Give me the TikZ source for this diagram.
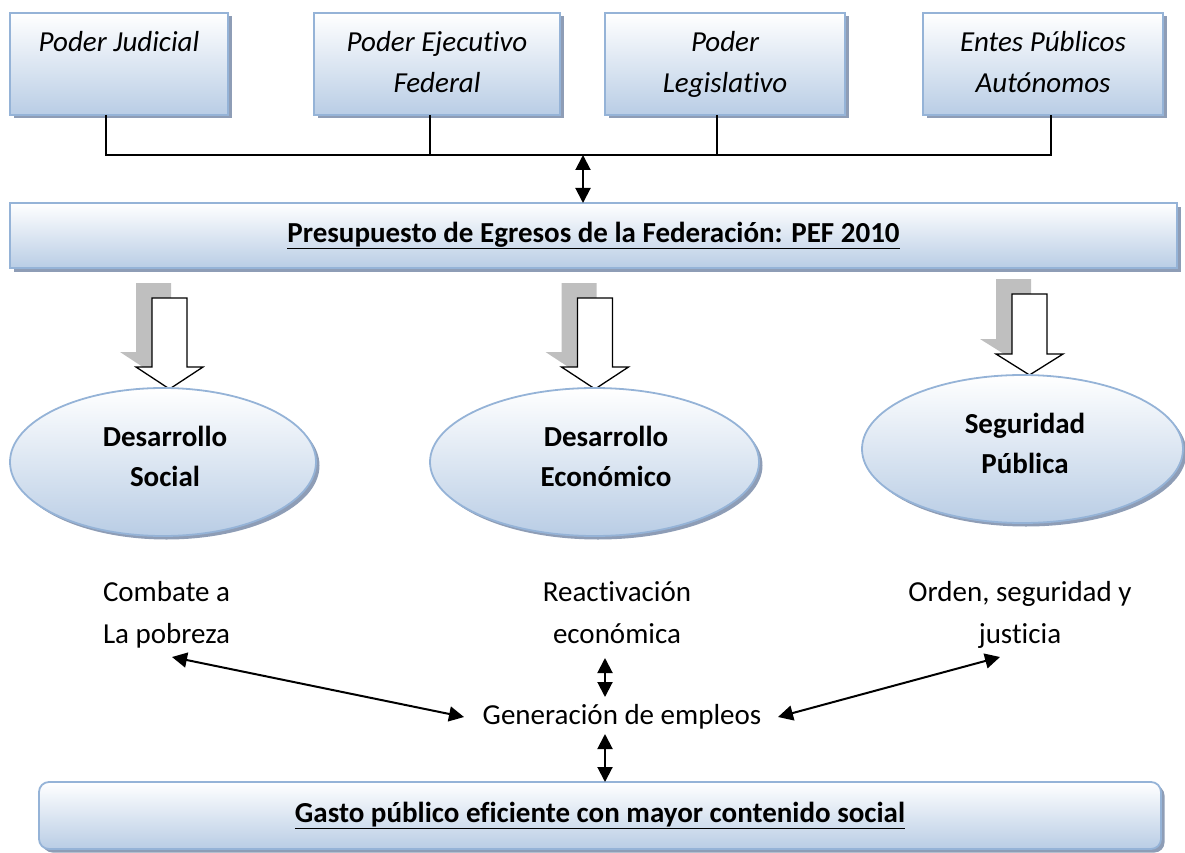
\documentclass[tikz,border=0pt]{standalone}
\usepackage{fontspec}
\setmainfont{Carlito}[Ligatures=NoCommon]
\usetikzlibrary{shapes.geometric,shadows,arrows.meta}
\definecolor{bfill}{RGB}{185,205,229}
\definecolor{bdraw}{RGB}{149,179,215}
\definecolor{shcol}{RGB}{142,157,182}
\definecolor{garrow}{RGB}{191,191,191}
\begin{document}
\begin{tikzpicture}[x=1pt,y=-1pt,
  every node/.style={font=\fontsize{29}{41}\selectfont, inner sep=0pt, outer sep=0pt},
  boxsh/.style={drop shadow={shadow xshift=3.5pt, shadow yshift=-3.5pt, fill=shcol, opacity=1}},
  topbox/.style={draw=bdraw, line width=1.8pt, top color=white, bottom color=bfill, boxsh,
    align=center, anchor=north west, minimum height=102pt, font=\fontsize{29}{41}\selectfont\itshape},
  widebox/.style={draw=bdraw, line width=1.8pt, top color=white, bottom color=bfill, boxsh,
    align=center, anchor=north west, font=\fontsize{29}{41}\selectfont\bfseries},
  oval/.style={ellipse, draw=bdraw, line width=1.8pt, top color=white, bottom color=bfill, boxsh},
  ovaltext/.style={align=center, font=\fontsize{29}{40}\selectfont\bfseries},
  plain/.style={font=\fontsize{29}{42}\selectfont},
  bus/.style={line width=1.3pt, black},
  dbl/.style={{Triangle[width=15pt,length=15pt]}-{Triangle[width=15pt,length=15pt]}, line width=2pt},
  blockw/.style={fill=white, draw=black, line width=1.3pt},
  blockg/.style={fill=garrow}
]
\useasboundingbox (0,0) rectangle (1185,853);

% top boxes
\node[topbox, minimum width=218pt] (pj) at (10,13) {\strut Poder Judicial\\\strut};
\node[topbox, minimum width=246pt] (pe) at (314,13) {\strut Poder Ejecutivo\\\strut Federal};
\node[topbox, minimum width=240pt] (pl) at (605,13) {\strut Poder\\\strut Legislativo};
\node[topbox, minimum width=240pt] (pa) at (923,13) {\strut Entes Públicos\\\strut Autónomos};

% PEF box
\node[widebox, minimum width=1167pt, minimum height=65pt] (pef) at (10,203)
  {\underline{Presupuesto de Egresos de la Federación: PEF 2010}};

% bus connectors
\coordinate (busmid) at (583,155);
\draw[bus] (pj.south -| 106,0) -- (106,155) -- (1051,155) -- (pa.south -| 1051,0);
\draw[bus] (pe.south -| 430,0) -- (430,155);
\draw[bus] (pl.south -| 717,0) -- (717,155);
\draw[dbl] (busmid) -- (pef.north -| busmid);

% block arrows (grey shadow then white arrow)
\foreach \cx/\top/\hy/\tip in {169.5/298/367/389, 595/298/367/389, 1029.5/294/354/375}{
  \begin{scope}[shift={(-16,-15)}]
    \fill[blockg] (\cx-17.5,\top) -- (\cx+17.5,\top) -- (\cx+17.5,\hy) -- (\cx+33.5,\hy)
      -- (\cx,\tip) -- (\cx-33.5,\hy) -- (\cx-17.5,\hy) -- cycle;
  \end{scope}
  \draw[blockw] (\cx-17.5,\top) -- (\cx+17.5,\top) -- (\cx+17.5,\hy) -- (\cx+33.5,\hy)
    -- (\cx,\tip) -- (\cx-33.5,\hy) -- (\cx-17.5,\hy) -- cycle;
}

% ellipses
\node[oval, minimum width=306pt, minimum height=148pt] (e1) at (163,462) {};
\node[oval, minimum width=329pt, minimum height=148pt] (e2) at (594.5,462) {};
\node[oval, minimum width=321pt, minimum height=148pt] (e3) at (1022.5,449) {};
\node[ovaltext] (t1) at (165,458) {\strut Desarrollo\\\strut Social};
\node[ovaltext] (t2) at (606,458) {\strut Desarrollo\\\strut Económico};
\node[ovaltext] (t3) at (1025,445) {\strut Seguridad\\\strut Pública};

% lower texts
\node[plain, align=left, anchor=west] (pob) at (103,614) {\strut Combate a\\\strut La pobreza};
\node[plain, align=center] (rea) at (617,614) {\strut Reactivación\\\strut económica};
\node[plain, align=center] (ord) at (1020,614) {\strut Orden, seguridad y\\\strut justicia};
\node[plain] (emp) at (622,717) {Generación de empleos};

% bottom box
\node[widebox, rounded corners=10pt, minimum width=1122pt, minimum height=67pt] (gas) at (39,782)
  {\underline{Gasto público eficiente con mayor contenido social}};

% connectors among lower texts
\coordinate (pobtip) at (172,657);
\coordinate (empl) at (464,717);
\coordinate (empr) at (778,717);
\coordinate (ordtip) at (1000,657);
\coordinate (reab) at (605,658);
\coordinate (empt) at (605,697);
\coordinate (empb) at (605,734);
\draw[dbl] (pobtip) -- (empl);
\draw[dbl] (empr) -- (ordtip);
\draw[dbl] (reab) -- (empt);
\draw[dbl] (empb) -- (gas.north -| empb);
\end{tikzpicture}
\end{document}
